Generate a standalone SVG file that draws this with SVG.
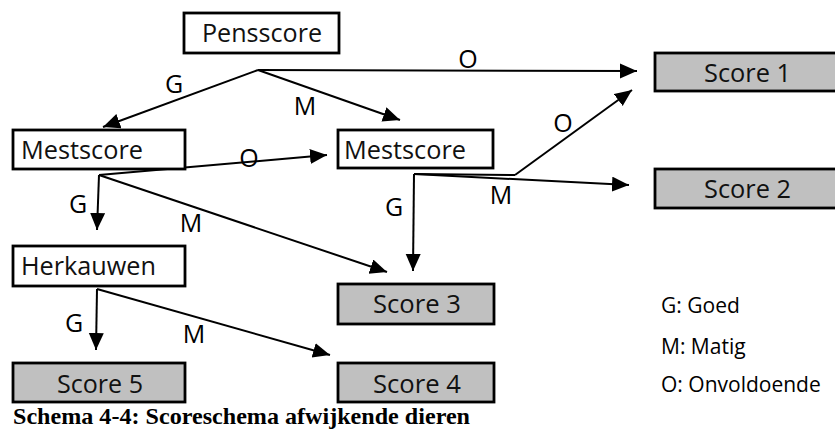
<svg xmlns="http://www.w3.org/2000/svg" width="835" height="430" viewBox="0 0 835 430">
<style>
.box{fill:#ffffff;stroke:#000;stroke-width:2.8}
.score{fill:#c0c0c0;stroke:#000;stroke-width:2.8}
.lbl{font-family:"Open Sans","Noto Sans",sans-serif;font-size:25px;fill:#111}
.el{font-family:"Open Sans","Noto Sans",sans-serif;font-size:25px;fill:#000;text-anchor:middle}
.leg{font-family:"Open Sans","Noto Sans",sans-serif;font-size:21px;fill:#000}
.cap{font-family:"Liberation Serif","Times New Roman",serif;font-size:23px;font-weight:bold;fill:#000}
.ln{fill:none;stroke:#000;stroke-width:2}
.arr{fill:none;stroke:#000;stroke-width:2;marker-end:url(#ah)}
</style>
<defs>
<marker id="ah" markerUnits="userSpaceOnUse" markerWidth="18" markerHeight="16" refX="17" refY="7.5" orient="auto">
<path d="M0,0 L17,7.5 L0,15 z" fill="#000"/>
</marker>
</defs>
<rect width="835" height="430" fill="#fff"/>
<g id="connectors">
<path class="arr" d="M258,70 L103,127"/>
<path class="arr" d="M258,70 L400,120"/>
<path class="arr" d="M258,70 L637,71"/>
<path class="arr" d="M99,175 L97,230"/>
<path class="arr" d="M99,175 L327,155"/>
<path class="arr" d="M99,175 L387,272"/>
<path class="ln" d="M414,174 L515,175"/>
<path class="arr" d="M515,175 L632,90"/>
<path class="arr" d="M414,174 L629,185"/>
<path class="arr" d="M414,174 L413,271"/>
<path class="arr" d="M97,289 L96,350"/>
<path class="arr" d="M97,289 L330,355"/>
</g>
<g id="edge-labels">
<text class="el" x="468" y="68">O</text>
<text class="el" x="174" y="93">G</text>
<text class="el" x="305" y="115">M</text>
<text class="el" x="249" y="167">O</text>
<text class="el" x="78" y="213">G</text>
<text class="el" x="191" y="232">M</text>
<text class="el" x="74" y="332">G</text>
<text class="el" x="194" y="343">M</text>
<text class="el" x="394" y="216">G</text>
<text class="el" x="563" y="132">O</text>
<text class="el" x="501" y="204">M</text>
</g>
<g id="pensscore">
<rect class="box" x="184" y="13" width="155" height="40"/>
<text class="lbl" x="202" y="42" textLength="120" lengthAdjust="spacingAndGlyphs">Pensscore</text>
</g>
<g id="mestscore-left">
<rect class="box" x="13" y="130" width="172" height="39"/>
<text class="lbl" x="21" y="159" textLength="122" lengthAdjust="spacingAndGlyphs">Mestscore</text>
</g>
<g id="mestscore-right">
<rect class="box" x="338" y="130" width="155" height="38"/>
<text class="lbl" x="344" y="159" textLength="122" lengthAdjust="spacingAndGlyphs">Mestscore</text>
</g>
<g id="herkauwen">
<rect class="box" x="13" y="246" width="172" height="40"/>
<text class="lbl" x="21" y="275" textLength="135" lengthAdjust="spacingAndGlyphs">Herkauwen</text>
</g>
<g id="score1">
<rect class="score" x="655" y="53" width="185" height="38"/>
<text class="lbl" x="704" y="82" textLength="87" lengthAdjust="spacingAndGlyphs">Score 1</text>
</g>
<g id="score2">
<rect class="score" x="655" y="169" width="185" height="39"/>
<text class="lbl" x="704" y="198" textLength="87" lengthAdjust="spacingAndGlyphs">Score 2</text>
</g>
<g id="score3">
<rect class="score" x="338" y="284" width="156" height="40"/>
<text class="lbl" x="373" y="313" textLength="88" lengthAdjust="spacingAndGlyphs">Score 3</text>
</g>
<g id="score4">
<rect class="score" x="338" y="363" width="156" height="39"/>
<text class="lbl" x="373" y="393" textLength="88" lengthAdjust="spacingAndGlyphs">Score 4</text>
</g>
<g id="score5">
<rect class="score" x="13" y="363" width="172" height="39"/>
<text class="lbl" x="57" y="393" textLength="86" lengthAdjust="spacingAndGlyphs">Score 5</text>
</g>
<g id="legend">
<text class="leg" x="661" y="313">G: Goed</text>
<text class="leg" x="661" y="354">M: Matig</text>
<text class="leg" x="661" y="392">O: Onvoldoende</text>
</g>
<text class="cap" x="13" y="424" textLength="457" lengthAdjust="spacingAndGlyphs">Schema 4-4: Scoreschema afwijkende dieren</text>
</svg>
